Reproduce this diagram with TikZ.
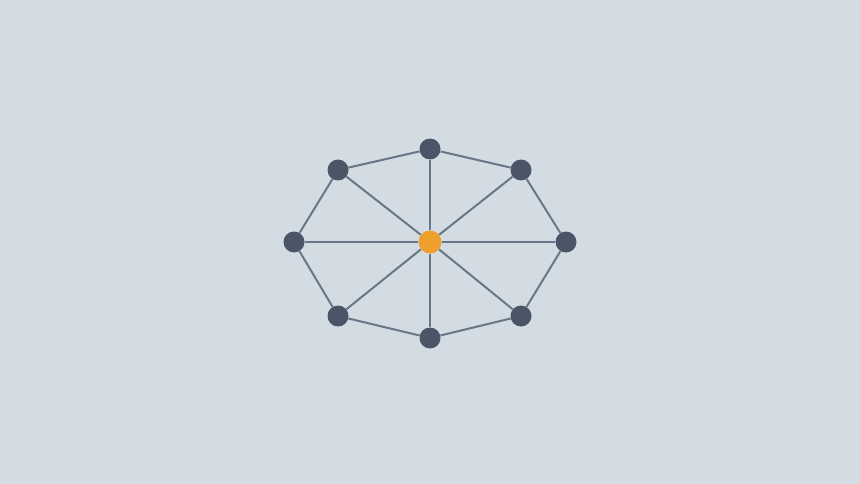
\documentclass[tikz,border=0pt]{standalone}
\usepackage{tikz}
\usetikzlibrary{positioning,calc}
\usepackage{xcolor}
\definecolor{bgcol}{HTML}{D3DCE2}
\definecolor{edgecol}{HTML}{687788}
\definecolor{leafcol}{HTML}{4A5668}
\definecolor{hubcol}{HTML}{EE9F2C}
\tikzset{
  leaf/.style={circle,fill=leafcol,inner sep=0pt,minimum size=21pt},
  hub/.style={circle,fill=hubcol,inner sep=0pt,minimum size=23pt},
  link/.style={draw=edgecol,line width=2pt}
}
\begin{document}
\begin{tikzpicture}[x=1pt,y=-1pt]
    \fill[bgcol] (0,0) rectangle (860,484);
    \useasboundingbox (0,0) rectangle (860,484);
    \node[hub] (c) at (430,242) {};
    \node[leaf] (n1) at (430,149) {};
    \node[leaf] (n2) at (521,170) {};
    \node[leaf] (n3) at (566,242) {};
    \node[leaf] (n4) at (521,316) {};
    \node[leaf] (n5) at (430,338) {};
    \node[leaf] (n6) at (338,316) {};
    \node[leaf] (n7) at (294,242) {};
    \node[leaf] (n8) at (338,170) {};
    % ring
    \foreach \i/\j in {1/2,2/3,3/4,4/5,5/6,6/7,7/8,8/1}
        \draw[link] (n\i) -- (n\j);
    % spokes
    \foreach \i in {1,...,8}
        \draw[link] (c) -- (n\i);
\end{tikzpicture}
\end{document}
